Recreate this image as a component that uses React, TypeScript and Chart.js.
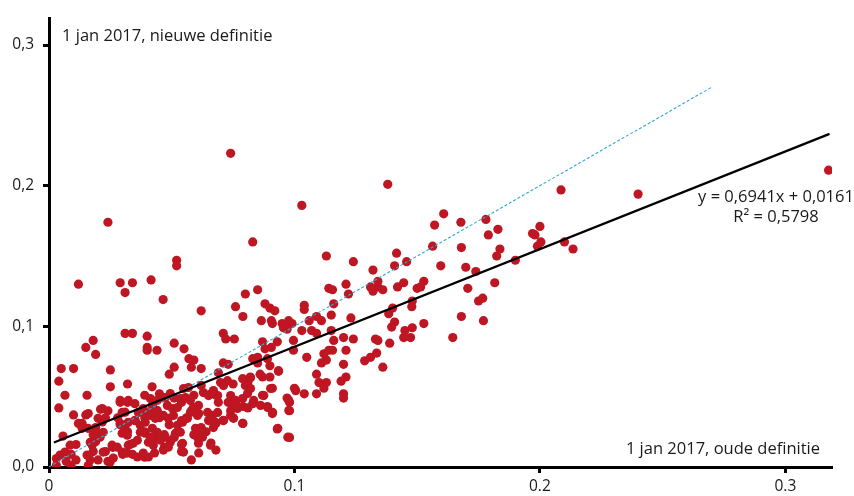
import React, { useEffect, useRef } from "react";
import { Chart, registerables } from "chart.js";

Chart.register(...registerables);

// Scatter data: x = 1 jan 2017 oude definitie, y = 1 jan 2017 nieuwe definitie
const xValues: number[] = [
  0.074, 0.024, 0.138, 0.103, 0.083, 0.052, 0.052, 0.0416, 0.0465, 0.012, 0.029, 0.034, 0.031, 0.113, 0.124, 0.132, 0.062,
  0.031, 0.034, 0.018, 0.015, 0.019, 0.040, 0.040, 0.040, 0.044, 0.051, 0.055, 0.057, 0.059, 0.058, 0.062, 0.005, 0.010, 0.025, 0.051, 0.049,
  0.004, 0.0065, 0.0155, 0.025, 0.032, 0.004, 0.010, 0.015, 0.012, 0.019, 0.021, 0.024, 0.029, 0.032, 0.039, 0.042, 0.045, 0.051, 0.054,
  0.059, 0.062, 0.066, 0.058, 0.061, 0.065, 0.056, 0.062, 0.066, 0.054, 0.054, 0.047, 0.043, 0.039, 0.036, 0.033, 0.030, 0.026, 0.023,
  0.024, 0.018, 0.019, 0.018, 0.011, 0.009, 0.007, 0.003, 0.016, 0.020, 0.032, 0.029, 0.035, 0.039, 0.042, 0.045, 0.049, 0.047, 0.051,
  0.059, 0.064, 0.068, 0.035, 0.031, 0.028, 0.023, 0.0135, 0.016, 0.034, 0.039, 0.043, 0.058, 0.061, 0.054, 0.003, 0.009, 0.011,
  0.069, 0.082, 0.086, 0.087, 0.0935, 0.109, 0.110, 0.113, 0.112, 0.109, 0.119, 0.121, 0.120, 0.120, 0.071, 0.075, 0.080, 0.081, 0.091,
  0.100, 0.104, 0.087, 0.097, 0.098, 0.068, 0.069, 0.073, 0.076, 0.079, 0.083, 0.081, 0.089, 0.091, 0.098, 0.074, 0.075, 0.071, 0.068,
  0.067, 0.079, 0.093, 0.098,
  0.080, 0.085, 0.076, 0.079, 0.088, 0.090, 0.092, 0.0865, 0.0906, 0.091, 0.095, 0.0955, 0.0976, 0.099, 0.097, 0.103, 0.104, 0.104,
  0.106, 0.109, 0.111, 0.115, 0.107, 0.109, 0.114, 0.1155, 0.116, 0.121, 0.122, 0.123, 0.071, 0.072, 0.0755, 0.087, 0.0906, 0.093, 0.088,
  0.089, 0.083, 0.085, 0.090, 0.0935, 0.0996, 0.0996, 0.105, 0.112, 0.113, 0.114, 0.1155, 0.111, 0.115, 0.116, 0.120, 0.124, 0.121, 0.120,
  0.071, 0.073, 0.085, 0.090, 0.1286, 0.131, 0.1335, 0.133, 0.132, 0.134, 0.131,
  0.134, 0.136, 0.142, 0.1445, 0.150, 0.1514, 0.1527, 0.148, 0.1478, 0.140, 0.1384, 0.1408, 0.1396, 0.145, 0.148, 0.1445, 0.1473, 0.1527,
  0.134, 0.1388, 0.136, 0.1645, 0.168, 0.1706, 0.175, 0.1767, 0.177, 0.1816, 0.1739,
  0.1416, 0.1408, 0.1457, 0.1563, 0.1571, 0.1608, 0.1596, 0.1678, 0.168, 0.1698, 0.178, 0.179, 0.1829, 0.1837, 0.1824, 0.190, 0.197,
  0.198, 0.200, 0.2004, 0.199, 0.2086, 0.210, 0.2135, 0.240, 0.3176,
  // dense lower-left cluster
  0.0057, 0.0045, 0.0065, 0.0086, 0.0135, 0.0159, 0.0168, 0.0176, 0.0155, 0.0168, 0.0217, 0.020, 0.0217, 0.0196, 0.0208, 0.0221,
  0.0221, 0.0249, 0.0262, 0.0257, 0.0278, 0.029, 0.0323, 0.0298, 0.029, 0.0311, 0.0323, 0.0298, 0.0319, 0.0298, 0.0319, 0.036,
  0.0323, 0.0343, 0.0364, 0.0384, 0.040, 0.0351, 0.0372, 0.0392, 0.0372, 0.0392, 0.0413, 0.0441, 0.0462, 0.0421, 0.0441, 0.0413,
  0.0433, 0.0421, 0.0441, 0.0413, 0.0405, 0.0425, 0.0384, 0.0405, 0.0454, 0.0474, 0.0494, 0.0466, 0.0486, 0.0466, 0.0486, 0.0507,
  0.0482, 0.0503, 0.0523, 0.0474, 0.0494, 0.0523, 0.0544, 0.0564, 0.0515, 0.0535, 0.0544, 0.0548, 0.0548, 0.0568, 0.0535, 0.0556,
  0.0576, 0.0588, 0.0609, 0.0576, 0.0605, 0.0597, 0.0617, 0.0605, 0.0625, 0.0609, 0.0658, 0.0629, 0.065, 0.067, 0.0687, 0.0646,
  0.0666, 0.0687, 0.0678, 0.0711, 0.0699, 0.0727, 0.0711, 0.074, 0.076, 0.0748, 0.0768, 0.0789, 0.0809, 0.0821, 0.074, 0.0752,
  0.0789, 0.0789, 0.0821, 0.0834, 0.0862, 0.0891, 0.0875, 0.0903, 0.0911, 0.0932, 0.0977, 0.0977, 0.0973, 0.1005,
];

const yValues: number[] = [
  0.223, 0.174, 0.201, 0.186, 0.160, 0.147, 0.143, 0.133, 0.119, 0.130, 0.131, 0.131, 0.124, 0.150, 0.146, 0.140, 0.111,
  0.095, 0.095, 0.090, 0.085, 0.080, 0.093, 0.085, 0.083, 0.083, 0.088, 0.084, 0.077, 0.076, 0.071, 0.070, 0.070, 0.070, 0.069, 0.071, 0.066,
  0.061, 0.051, 0.051, 0.057, 0.059, 0.042, 0.037, 0.037, 0.031, 0.028, 0.041, 0.040, 0.046, 0.046, 0.051, 0.057, 0.052, 0.049, 0.046,
  0.051, 0.058, 0.052, 0.040, 0.038, 0.033, 0.035, 0.028, 0.017, 0.016, 0.011, 0.014, 0.021, 0.025, 0.019, 0.016, 0.009, 0.014, 0.011,
  0.004, 0.011, 0.018, 0.023, 0.016, 0.009, 0.004, 0.006, 0.001, 0.005, 0.025, 0.030, 0.033, 0.035, 0.040, 0.035, 0.030, 0.023, 0.021,
  0.023, 0.025, 0.012, 0.045, 0.039, 0.035, 0.035, 0.031, 0.038, 0.009, 0.007, 0.010, 0.005, 0.010, 0.033, 0.001, 0.001, 0.005,
  0.067, 0.064, 0.066, 0.064, 0.068, 0.066, 0.060, 0.060, 0.056, 0.052, 0.061, 0.064, 0.052, 0.049, 0.059, 0.059, 0.058, 0.060, 0.056,
  0.056, 0.052, 0.051, 0.049, 0.046, 0.051, 0.046, 0.046, 0.045, 0.043, 0.045, 0.042, 0.043, 0.038, 0.040, 0.040, 0.035, 0.033, 0.031,
  0.028, 0.031, 0.027, 0.021,
  0.123, 0.126, 0.114, 0.107, 0.116, 0.113, 0.111, 0.104, 0.104, 0.102, 0.102, 0.099, 0.104, 0.102, 0.098, 0.097, 0.115, 0.112,
  0.104, 0.107, 0.104, 0.108, 0.097, 0.095, 0.127, 0.126, 0.116, 0.130, 0.123, 0.106, 0.095, 0.091, 0.091, 0.089, 0.085, 0.089, 0.084,
  0.077, 0.077, 0.078, 0.072, 0.0685, 0.090, 0.083, 0.078, 0.0805, 0.076, 0.083, 0.083, 0.074, 0.097, 0.090, 0.092, 0.091, 0.083, 0.073,
  0.074, 0.073, 0.074, 0.064, 0.0755, 0.078, 0.081, 0.091, 0.125, 0.128, 0.128,
  0.132, 0.126, 0.128, 0.131, 0.127, 0.128, 0.132, 0.118, 0.114, 0.113, 0.109, 0.103, 0.0995, 0.097, 0.099, 0.092, 0.092, 0.102,
  0.090, 0.088, 0.071, 0.092, 0.107, 0.127, 0.118, 0.120, 0.104, 0.131, 0.139,
  0.152, 0.143, 0.146, 0.157, 0.172, 0.180, 0.143, 0.174, 0.156, 0.142, 0.176, 0.165, 0.169, 0.155, 0.150, 0.147, 0.166,
  0.165, 0.171, 0.160, 0.157, 0.197, 0.160, 0.155, 0.194, 0.211,
  // dense lower-left cluster
  0.022, 0.0085, 0.0106, 0.0155, 0.0275, 0.0275, 0.0176, 0.0155, 0.0085, 0.005, 0.0416, 0.0346, 0.032, 0.024, 0.0212, 0.0247,
  0.0106, 0.0035, 0.0064, 0.0155, 0.0141, 0.0473, 0.0473, 0.0388, 0.0311, 0.0296, 0.0318, 0.024, 0.0226, 0.0106, 0.0099, 0.0071,
  0.0155, 0.0169, 0.0388, 0.0416, 0.0381, 0.0332, 0.0296, 0.0318, 0.0247, 0.024, 0.0487, 0.0473, 0.0494, 0.0438, 0.0402, 0.0367,
  0.0346, 0.0275, 0.0247, 0.0212, 0.0176, 0.0155, 0.0099, 0.0071, 0.0191, 0.0212, 0.0176, 0.012, 0.0141, 0.0367, 0.0346, 0.0367,
  0.0438, 0.0416, 0.0423, 0.0494, 0.0522, 0.0296, 0.0318, 0.0346, 0.024, 0.0247, 0.0169, 0.0106, 0.0558, 0.0565, 0.0487, 0.0494,
  0.0473, 0.0423, 0.0438, 0.0388, 0.0367, 0.0275, 0.0247, 0.0212, 0.0212, 0.0169, 0.0155, 0.0529, 0.0508, 0.0543, 0.0508, 0.0388,
  0.0367, 0.0388, 0.0318, 0.0332, 0.060, 0.0614, 0.0579, 0.0508, 0.0473, 0.0438, 0.0416, 0.0487, 0.0522, 0.0558, 0.0367, 0.0346,
  0.0311, 0.0628, 0.0635, 0.0473, 0.0438, 0.0423, 0.0508, 0.0558, 0.0388, 0.0275, 0.0473, 0.0402, 0.0212, 0.0543,
];

// Trend line (from the stated equation) and y = x reference line
const trendSlope = 0.6941;
const trendIntercept = 0.0161;
const trendXRange = [0.002, 0.318];
const diagonalRange = [0, 0.27];

const xTicks = [0, 0.1, 0.2, 0.3];
const yTicks = [0, 0.1, 0.2, 0.3];

const yLabel = "1 jan 2017, nieuwe definitie";
const xLabel = "1 jan 2017, oude definitie";
const eqLabel = "y = 0,6941x + 0,0161";
const r2Label = "R² = 0,5798";

const FONT = "'Open Sans', 'Noto Sans', sans-serif";
const TEXT = "#1a1a1a";

export default function App() {
  const ref = useRef<HTMLCanvasElement | null>(null);

  useEffect(() => {
    document.body.style.margin = "0";
    const canvas = ref.current;
    if (!canvas) return;

    const points = xValues.map((x, i) => ({ x, y: yValues[i] }));
    const trend = trendXRange.map((x) => ({ x, y: trendSlope * x + trendIntercept }));
    const diag = diagonalRange.map((v) => ({ x: v, y: v }));

    const textPlugin = {
      id: "texts",
      afterDatasetsDraw(chart: any) {
        const { ctx, chartArea } = chart;
        ctx.save();
        ctx.fillStyle = TEXT;
        ctx.font = `16.5px ${FONT}`;
        ctx.textBaseline = "alphabetic";
        ctx.textAlign = "left";
        ctx.fillText(yLabel, chartArea.left + 13, chartArea.top + 23);
        ctx.textAlign = "right";
        ctx.fillText(xLabel, chartArea.right - 12, chartArea.bottom - 13);
        ctx.textAlign = "center";
        ctx.fillText(eqLabel, chartArea.right - 56, 202);
        ctx.fillText(r2Label, chartArea.right - 56, 222);
        ctx.restore();
      },
    };

    const chart = new Chart(canvas, {
      type: "scatter",
      data: {
        datasets: [
          {
            label: "trend",
            data: trend,
            showLine: true,
            borderColor: "#000000",
            borderWidth: 2.2,
            pointRadius: 0,
            order: 0,
          } as any,
          {
            label: "y=x",
            data: diag,
            showLine: true,
            borderColor: "#2FA8DD",
            borderWidth: 1.1,
            borderDash: [3, 2],
            pointRadius: 0,
            order: 0,
          } as any,
          {
            label: "data",
            data: points,
            backgroundColor: "#BE1622",
            borderWidth: 0,
            pointRadius: 4.6,
            pointHoverRadius: 4.6,
            order: 1,
          },
        ],
      },
      options: {
        animation: false,
        responsive: false,
        devicePixelRatio: 1,
        layout: { padding: { top: 15, right: 22, left: 0, bottom: 0 } },
        plugins: {
          legend: { display: false },
          tooltip: { enabled: false },
          title: { display: false },
        },
        events: [],
        scales: {
          x: {
            type: "linear",
            min: 0,
            max: 0.319,
            afterFit: (s: any) => {
              s.height = 29;
            },
            afterBuildTicks: (s: any) => {
              s.ticks = xTicks.map((v) => ({ value: v }));
            },
            border: { display: true, color: "#000", width: 3 },
            grid: {
              drawOnChartArea: false,
              drawTicks: true,
              tickLength: 6,
              tickWidth: 3,
              tickColor: "#000",
            },
            ticks: {
              includeBounds: false,
              stepSize: 0.1,
              padding: 4,
              color: TEXT,
              font: { family: FONT, size: 15.5 },
              maxRotation: 0,
              callback: (v: any) => (Number(v) === 0 ? "0" : Number(v).toFixed(1)),
            },
          },
          y: {
            type: "linear",
            min: 0,
            max: 0.319,
            afterFit: (s: any) => {
              s.width = 49;
            },
            afterBuildTicks: (s: any) => {
              s.ticks = yTicks.map((v) => ({ value: v }));
            },
            border: { display: true, color: "#000", width: 3 },
            grid: {
              drawOnChartArea: false,
              drawTicks: true,
              tickLength: 6,
              tickWidth: 3,
              tickColor: "#000",
            },
            ticks: {
              includeBounds: false,
              stepSize: 0.1,
              padding: 9,
              color: TEXT,
              font: { family: FONT, size: 15.5 },
              callback: (v: any) => Number(v).toFixed(1).replace(".", ","),
            },
          },
        },
      },
      plugins: [textPlugin],
    });

    return () => chart.destroy();
  }, []);

  return (
    <div style={{ width: 854, height: 496 }}>
      <canvas ref={ref} width={854} height={496} style={{ display: "block" }} />
    </div>
  );
}
